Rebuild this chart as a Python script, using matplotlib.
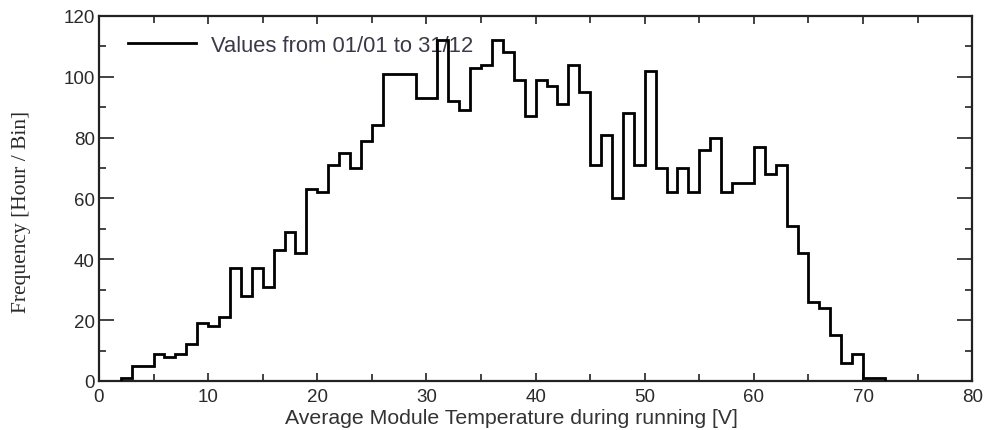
import numpy as np
import matplotlib
matplotlib.use("Agg")
import matplotlib.pyplot as plt
from matplotlib.ticker import MultipleLocator

# histogram bins: 1 unit wide, from 2 to 72
bin_edges = list(range(2, 73))
counts = [1, 5, 5, 9, 8, 9, 12, 19, 18, 21,
          37, 28, 37, 31, 43, 49, 42, 63, 62, 71,
          75, 70, 79, 84, 101, 101, 101, 93, 93, 112,
          92, 89, 103, 104, 112, 108, 99, 87, 99, 97,
          91, 104, 95, 71, 81, 60, 88, 71, 102, 70,
          62, 70, 62, 76, 80, 62, 65, 65, 77, 68,
          71, 51, 42, 26, 24, 15, 6, 9, 1, 1]

legend_label = "Values from 01/01 to 31/12"
x_label = "Average Module Temperature during running [V]"
y_label = "Frequency [Hour / Bin]"

fig = plt.figure(figsize=(9.85, 4.31), dpi=100)
ax = fig.add_axes([0.1005, 0.1137, 0.8865, 0.8469])

ax.stairs(counts, bin_edges, baseline=0, color="black", linewidth=2.0,
          label=legend_label, zorder=3)

ax.set_xlim(0, 80)
ax.set_ylim(0, 120)

ax.xaxis.set_major_locator(MultipleLocator(10))
ax.xaxis.set_minor_locator(MultipleLocator(5))
ax.yaxis.set_major_locator(MultipleLocator(20))
ax.yaxis.set_minor_locator(MultipleLocator(10))

ax.tick_params(axis="both", which="both", direction="in", top=True, right=True,
               colors="#222222", labelcolor="#2a2a2a", width=1.2)
ax.tick_params(axis="x", which="major", length=6, pad=5, labelsize=13.5)
ax.tick_params(axis="x", which="minor", length=5)
ax.tick_params(axis="y", which="major", length=10.5, pad=3, labelsize=13.5)
ax.tick_params(axis="y", which="minor", length=5)

for tl in ax.get_xticklabels() + ax.get_yticklabels():
    tl.set_family("Liberation Sans")

for sp in ax.spines.values():
    sp.set_linewidth(1.6)
    sp.set_color("#222222")

ax.set_xlabel(x_label, fontsize=15.3, family="Liberation Sans", color="#333333")
ax.xaxis.set_label_coords(0.472, -0.074)
ax.set_ylabel(y_label, fontsize=15.5, family="Liberation Serif", color="#2a2a2a")
ax.yaxis.set_label_coords(-0.078, 0.466)

leg = ax.legend(loc="upper left", bbox_to_anchor=(0.033, 0.948), frameon=False,
                borderpad=0, borderaxespad=0, handlelength=3.1, handletextpad=0.7,
                prop={"family": "Liberation Sans", "size": 15.8})
leg.set_zorder(1)
for t in leg.get_texts():
    t.set_color("#3a3a48")

fig.savefig("out.png", dpi=100)
